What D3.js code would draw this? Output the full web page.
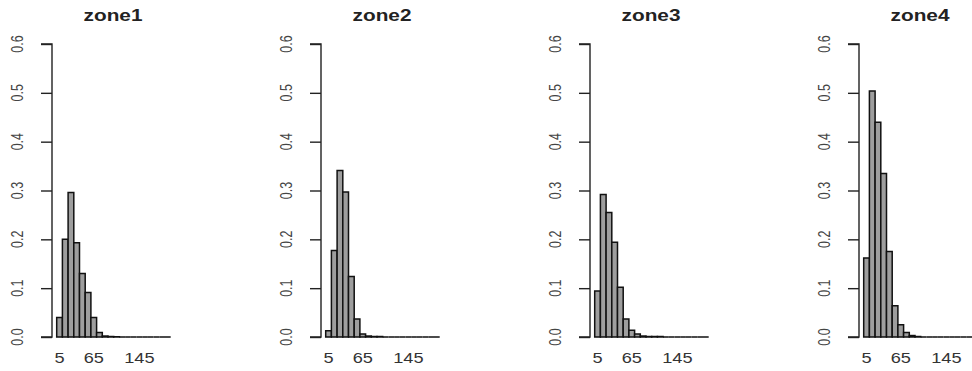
<!DOCTYPE html>
<html>
<head>
<meta charset="utf-8">
<script src="https://cdn.jsdelivr.net/npm/d3@7"></script>
<style>
  body { margin: 0; background: #fff; }
  svg { display: block; font-family: "Liberation Sans", Arial, sans-serif; }
</style>
</head>
<body>
<svg id="chart" width="972" height="371"></svg>
<script>
// bin names (class midpoints) used as bar labels
const bins = ["5", "15", "25", "35", "45", "55", "65", "75", "85", "95",
              "105", "115", "125", "135", "145", "155", "165", "175", "185", "195"];
// R drops overlapping names, only these survive
const shownLabels = ["5", "65", "145"];
const yTicks = [0, 0.1, 0.2, 0.3, 0.4, 0.5, 0.6];
const zones = ["zone1", "zone2", "zone3", "zone4"];

const zone1 = [0.040, 0.200, 0.296, 0.193, 0.130, 0.091, 0.040, 0.009, 0.002, 0.001,
               0.0005, 0, 0, 0, 0, 0, 0, 0, 0, 0];
const zone2 = [0.013, 0.177, 0.341, 0.297, 0.124, 0.037, 0.006, 0.002, 0.001, 0.001,
               0, 0, 0, 0, 0, 0, 0, 0, 0, 0];
const zone3 = [0.094, 0.292, 0.255, 0.194, 0.102, 0.037, 0.014, 0.006, 0.002, 0.001,
               0.001, 0.001, 0, 0, 0, 0, 0, 0, 0, 0];
const zone4 = [0.162, 0.504, 0.440, 0.335, 0.175, 0.064, 0.025, 0.009, 0.003, 0.001,
               0, 0, 0, 0, 0, 0, 0, 0, 0, 0];
const zoneValues = [zone1, zone2, zone3, zone4];

const svg = d3.select("#chart");
const stretch = 1.3; // the picture is a bit wider than tall, text follows

const y = d3.scaleLinear().domain([0, 0.6]).range([337, 44]);

zones.forEach((name, i) => {
    const axisX = 52 + i * 269;
    const x = d3.scaleBand()
        .domain(bins)
        .range([axisX + 4.7, axisX + 4.7 + 114])
        .paddingInner(0);

    const g = svg.append("g");

    // bars (paths so that zero-height bars still draw a line)
    g.append("g")
        .selectAll("path")
        .data(zoneValues[i].map((v, k) => ({ bin: bins[k], v: v })))
        .enter()
        .append("path")
        .attr("d", d => {
            const x0 = x(d.bin), x1 = x0 + x.bandwidth();
            return `M${x0},${y(0)}H${x1}V${y(d.v)}H${x0}Z`;
        })
        .attr("fill", "#9e9e9e")
        .attr("stroke", "#111")
        .attr("stroke-width", 1.5);

    // y axis
    const yAxis = g.append("g")
        .attr("transform", `translate(${axisX},0)`)
        .call(d3.axisLeft(y).tickValues(yTicks).tickSize(11).tickFormat(""));
    yAxis.select(".domain").attr("stroke", "#222").attr("stroke-width", 1.4)
        .attr("d", `M-11,${y(0.6)}H0V${y(0)}H-11`);
    yAxis.selectAll(".tick line").attr("stroke", "#222").attr("stroke-width", 1.4);

    g.append("g")
        .selectAll("text")
        .data(yTicks)
        .enter()
        .append("text")
        .attr("transform", d => `translate(${axisX - 29},${y(d)}) scale(${stretch},1) rotate(-90)`)
        .attr("text-anchor", "middle")
        .attr("font-size", 12.5)
        .attr("fill", "#444")
        .text(d => d.toFixed(1));

    // x labels
    g.append("g")
        .selectAll("text")
        .data(shownLabels)
        .enter()
        .append("text")
        .attr("transform", d => `translate(${x(d) + x.bandwidth() / 2},363) scale(${stretch},1)`)
        .attr("text-anchor", "middle")
        .attr("font-size", 14)
        .attr("fill", "#333")
        .text(d => d);

    // title
    svg.append("text")
        .attr("transform", `translate(${axisX + 61},21) scale(${stretch},1)`)
        .attr("text-anchor", "middle")
        .attr("font-size", 16)
        .attr("font-weight", "bold")
        .attr("fill", "#222")
        .text(name);
});
</script>
</body>
</html>
